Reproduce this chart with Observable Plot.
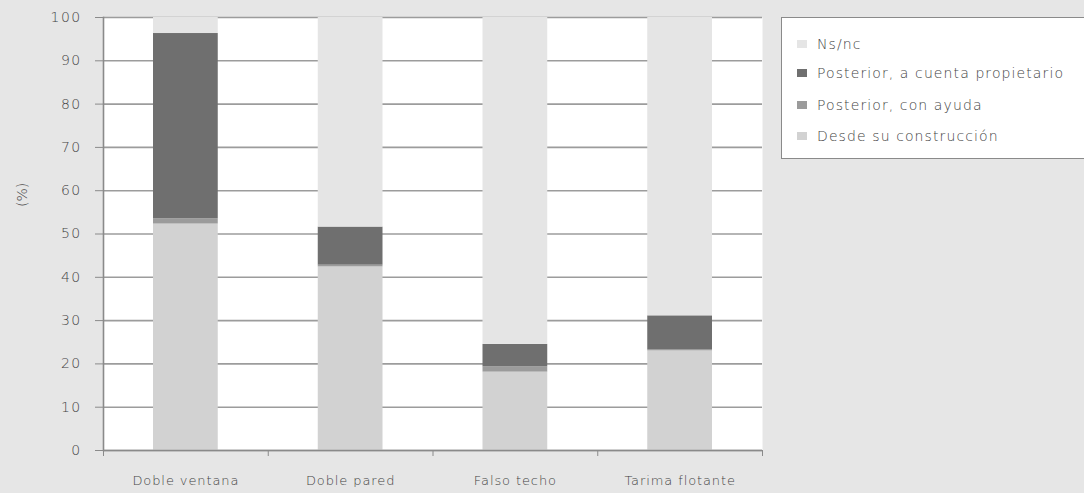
<!DOCTYPE html>
<html>
<head>
<meta charset="utf-8">
<script src="https://cdn.jsdelivr.net/npm/d3@7"></script>
<script src="https://cdn.jsdelivr.net/npm/@observablehq/plot@0.6"></script>
<style>
  html, body { margin: 0; padding: 0; background: #e6e6e6; }
  #wrap { position: relative; width: 1084px; height: 493px; background: #e6e6e6; font-family: "DejaVu Sans", sans-serif; font-weight: 200; color: #444; }
  #wrap svg text { font-weight: 200; }
  #legend { position: absolute; left: 781px; top: 17px; width: 310px; height: 142px; background: #fff; border: 1px solid #8a8a8a; box-sizing: border-box; }
  .item { position: absolute; left: 15px; font-size: 14px; letter-spacing: 1.1px; line-height: 16px; white-space: nowrap; }
  .sw { display: inline-block; width: 10px; height: 8px; margin-right: 10px; vertical-align: 1px; }
  .ytick text { letter-spacing: 1.4px; }
  .xlab text { letter-spacing: 0.9px; }
</style>
</head>
<body>
<div id="wrap"></div>
<script>
// Categories (x) and stacked series, bottom to top
const categories = ["Doble ventana", "Doble pared", "Falso techo", "Tarima flotante"];
const seriesNames = ["Desde su construcción", "Posterior, con ayuda", "Posterior, a cuenta propietario", "Ns/nc"];
const seriesColors = ["#d2d2d2", "#9b9b9b", "#6f6f6f", "#e5e5e5"];

// Percentages per category, one array per series
const desde = [52.3, 42.4, 18.1, 23.0];
const conAyuda = [1.2, 0.4, 1.2, 0.2];
const propietario = [42.8, 8.8, 5.2, 7.9];
const nsnc = [3.7, 48.4, 75.5, 68.9];

const yTicks = [0, 10, 20, 30, 40, 50, 60, 70, 80, 90, 100];

const seriesValues = [desde, conAyuda, propietario, nsnc];
const rows = [];
seriesNames.forEach((s, si) => {
  categories.forEach((c, ci) => {
    rows.push({cat: c, idx: ci, series: s, value: seriesValues[si][ci]});
  });
});

const chart = Plot.plot({
  width: 1084,
  height: 493,
  marginLeft: 103,
  marginRight: 322,
  marginTop: 17,
  marginBottom: 43,
  style: {background: "transparent", fontFamily: "DejaVu Sans, sans-serif", fontSize: "14px", color: "#444"},
  x: {domain: [0, categories.length], axis: null},
  y: {domain: [0, 100], axis: null},
  color: {domain: seriesNames, range: seriesColors},
  marks: [
    Plot.frame({fill: "#fff", stroke: null}),
    Plot.ruleY(yTicks, {stroke: "#9c9c9c", strokeWidth: 1.6}),
    Plot.rectY(rows, Plot.stackY({
      x: "idx",
      x1: d => d.idx,
      x2: d => d.idx + 1,
      y: "value",
      fill: "series",
      insetLeft: 50,
      insetRight: 50,
      order: seriesNames
    })),
    Plot.axisY({ticks: yTicks, tickSize: 8, tickPadding: 14, stroke: "#8a8a8a", fill: "#444",
      fontSize: 14, label: null, className: "ytick"}),
    Plot.frame({anchor: "left", stroke: "#8a8a8a", strokeWidth: 1.6}),
    Plot.ruleY([0], {stroke: "#8a8a8a", strokeWidth: 1.6}),
    Plot.axisX({ticks: d3.range(categories.length + 1), tickSize: 6, tickFormat: () => "", stroke: "#8a8a8a"}),
    Plot.axisX({ticks: categories.map((c, i) => i + 0.5), tickSize: 0, tickPadding: 25,
      tickFormat: v => categories[Math.floor(v)], fill: "#444", fontSize: 13, label: null, className: "xlab"}),
    Plot.text(["(%)"], {frameAnchor: "left", dx: -81, dy: -27, rotate: -90, fill: "#444", fontSize: 14})
  ]
});

const wrap = document.getElementById("wrap");
wrap.appendChild(chart);

// Legend, top to bottom as the stack reads
const legend = document.createElement("div");
legend.id = "legend";
const legendOrder = [3, 2, 1, 0];
const tops = [18, 47, 79, 110];
legendOrder.forEach((si, k) => {
  const it = document.createElement("div");
  it.className = "item";
  it.style.top = tops[k] + "px";
  const sw = document.createElement("span");
  sw.className = "sw";
  sw.style.background = seriesColors[si];
  it.appendChild(sw);
  it.appendChild(document.createTextNode(seriesNames[si]));
  legend.appendChild(it);
});
wrap.appendChild(legend);
</script>
</body>
</html>
